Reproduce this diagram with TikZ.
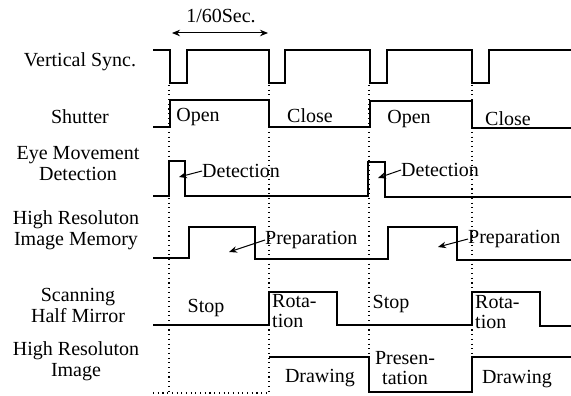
\documentclass[tikz,border=0pt]{standalone}
\usepackage{fontspec}
\setmainfont{Liberation Serif}
\usetikzlibrary{arrows.meta}
\begin{document}
\begin{tikzpicture}[x=1pt,y=-1pt,
  sig/.style={line width=1.3pt, line join=miter},
  guide/.style={line width=1.1pt, dash pattern=on 1.1pt off 3.6pt},
  lbl/.style={font=\fontsize{20}{21}\selectfont, inner sep=0pt, align=center},
  txt/.style={font=\fontsize{20}{21}\selectfont, inner sep=0pt},
  txtl/.style={font=\fontsize{20}{20}\selectfont, inner sep=0pt, align=left},
  pointer/.style={line width=1pt, -{Stealth[length=8pt,width=6.5pt]}},
  span/.style={line width=1pt, {Stealth[length=8pt,width=6.5pt]}-{Stealth[length=8pt,width=6.5pt]}},
]
\useasboundingbox (0,0) rectangle (571,396);

% row labels
\node[lbl] (vs)  at (80,62)  {Vertical Sync.};
\node[lbl] (sh)  at (80,117) {Shutter};
\node[lbl] (em)  at (78,164) {Eye Movement\\Detection};
\node[lbl] (mem) at (76,230) {High Resoluton\\Image Memory};
\node[lbl] (mir) at (78,305) {Scanning\\Half Mirror};
\node[lbl] (hri) at (76,361) {High Resoluton\\Image};

% guide lines
\draw[guide] (169,85) -- (169,393);
\draw[guide] (269,85) -- (269,393);
\draw[guide] (369,85) -- (369,357);
\draw[guide] (472,85) -- (472,357);
\draw[guide] (153,393) -- (269,393);

% 1/60 sec
\node[txt] (per) at (221,16) {1/60Sec.};
\coordinate (pl) at (172,33);
\coordinate (pr) at (268,33);
\draw[span] (pl) -- (pr);

% vertical sync
\draw[sig] (153,50) -- (170,50) -- (170,83) -- (187,83) -- (187,50) -- (269,50) -- (269,83)
  -- (285,83) -- (285,50) -- (370,50) -- (370,83) -- (387,83) -- (387,50) -- (472,50)
  -- (472,83) -- (489,83) -- (489,50) -- (571,50);

% shutter
\draw[sig] (153,127) -- (170,127) -- (170,100) -- (269,100) -- (269,127) -- (370,127)
  -- (370,101) -- (472,101) -- (472,128) -- (571,128);
\node[txt] (o1) at (198,117) {Open};
\node[txt] (c1) at (310,116) {Close};
\node[txt] (o2) at (409,119) {Open};
\node[txt] (c2) at (508,119) {Close};

% eye movement detection
\draw[sig] (153,196) -- (169,196) -- (169,161) -- (185,161) -- (185,196) -- (368,196)
  -- (368,162) -- (385,162) -- (385,197) -- (571,197);
\node[txt, anchor=west] (d1) at (202,171) {Detection};
\node[txt, anchor=west] (d2) at (401,170) {Detection};
\coordinate (d1t) at (179,177);
\coordinate (d2t) at (378,178);
\draw[pointer] (d1.west) -- (d1t);
\draw[pointer] (d2.west) -- (d2t);

% image memory
\draw[sig] (153,258) -- (189,258) -- (189,227) -- (255,227) -- (255,259) -- (388,259)
  -- (388,227) -- (457,227) -- (457,260) -- (571,260);
\node[txt, anchor=west] (p1) at (265,240) {Preparation};
\node[txt, anchor=west] (p2) at (468,239) {Preparation};
\coordinate (p1t) at (229,252);
\coordinate (p2t) at (438,247);
\draw[pointer] (p1.west) -- (p1t);
\draw[pointer] (p2.west) -- (p2t);

% scanning half mirror
\draw[sig] (153,325) -- (269,325) -- (269,292) -- (337,292) -- (337,325) -- (472,325)
  -- (472,292) -- (540,292) -- (540,326) -- (571,326);
\node[txt] (s1) at (206,308) {Stop};
\node[txt] (s2) at (391,304) {Stop};
\node[txtl, anchor=north west] (r1) at (272,294) {Rota-\\tion};
\node[txtl, anchor=north west] (r2) at (475,295) {Rota-\\tion};

% high resolution image
\draw[sig] (269,357) -- (369,357) -- (369,392) -- (472,392) -- (472,357) -- (571,357);
\node[txt] (w1) at (320,378) {Drawing};
\node[lbl, font=\fontsize{20}{20}\selectfont] (pr1) at (405,368) {Presen-\\tation};
\node[txt] (w2) at (517,379) {Drawing};
\end{tikzpicture}
\end{document}
